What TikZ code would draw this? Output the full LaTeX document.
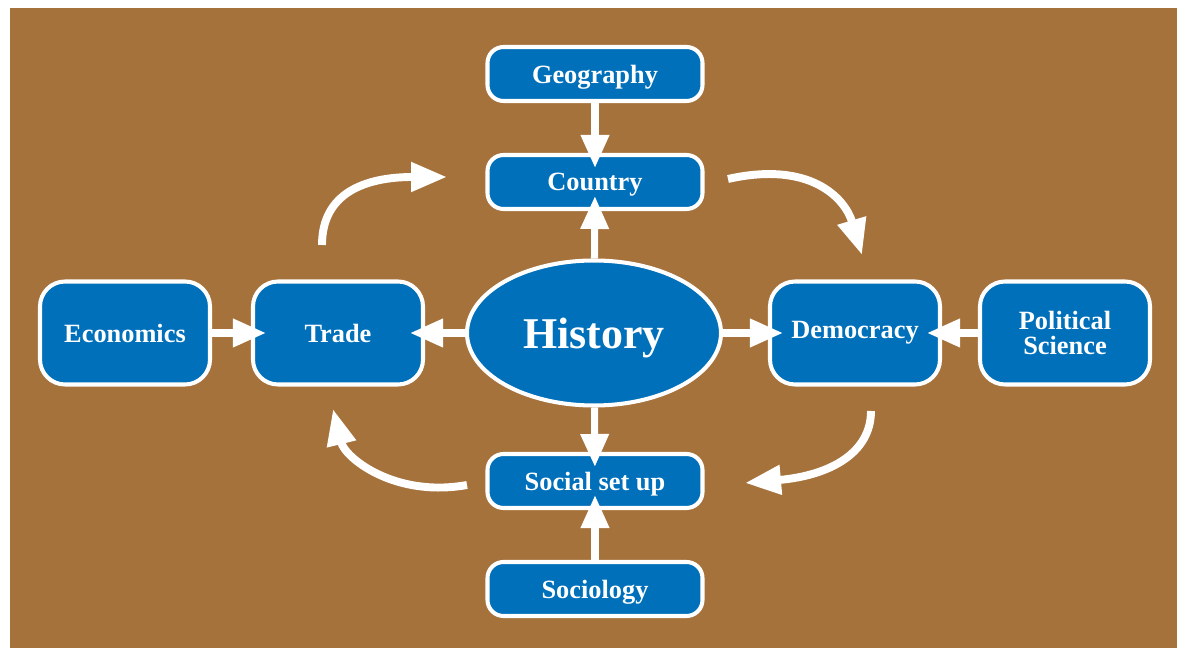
\documentclass[tikz,border=0pt]{standalone}
\usepackage{fontspec}
\setmainfont{Liberation Serif}
\usetikzlibrary{arrows.meta,shapes.geometric}
\definecolor{bgbrown}{HTML}{A6723B}
\definecolor{boxblue}{HTML}{0070BA}
\begin{document}
\begin{tikzpicture}[
   box/.style={draw=white, line width=2.3pt, fill=boxblue, text=white,
     font=\bfseries\fontsize{15}{14.5}\selectfont, align=center, inner sep=0pt},
   wide/.style={box, rounded corners=0.32cm, minimum width=4.3cm, minimum height=1.08cm, text depth=0pt},
   tall/.style={box, rounded corners=0.5cm, minimum width=3.4cm, minimum height=2.06cm},
   flow/.style={white, line width=4pt, -{Triangle[length=0.66cm,width=0.54cm]}, shorten >=-0.3cm},
   turn/.style={white, line width=4.5pt, -{Triangle[length=0.72cm,width=0.56cm]}}
  ]
   \useasboundingbox (0,0) rectangle (23.54,12.96);
   \fill[bgbrown] (0.2,0) rectangle (23.54,12.8);
   % middle column
   \node[wide] (geo)     at (11.9,11.48) {Geography};
   \node[wide] (country) at (11.9,9.32)  {Country};
   \node[wide] (social)  at (11.9,3.34)  {Social set up};
   \node[wide] (socio)   at (11.9,1.18)  {Sociology};
   \node[box, ellipse, minimum width=5.08cm, minimum height=2.9cm, text depth=0pt,
         font=\bfseries\fontsize{25}{30}\selectfont] (history) at (11.88,6.3) {History};
   % middle row
   \node[tall] (econ)   at (2.5,6.3)  {Economics};
   \node[tall] (trade)  at (6.76,6.3) {Trade};
   \node[tall] (demo)   at (17.1,6.3) {Democracy};
   \node[tall] (polsci) at (21.3,6.3) {Political\\Science};
   \foreach \a/\b in {geo/country, history/country, history/social, socio/social,
                      econ/trade, history/trade, history/demo, polsci/demo}
     \draw[flow] (\a) -- (\b);
   % round arrows
   \coordinate (tl0) at (6.44,8.06);  \coordinate (tl1) at (8.94,9.42);
   \coordinate (tr0) at (14.56,9.38); \coordinate (tr1) at (17.24,7.86);
   \coordinate (br0) at (17.42,4.74); \coordinate (br1) at (14.9,3.3);
   \coordinate (bl0) at (9.34,3.26);  \coordinate (bl1) at (6.66,4.78);
   \draw[turn] (tl0) .. controls (6.44,9.1) and (7.3,9.42) .. (tl1);
   \draw[turn] (tr0) .. controls (16.2,9.75) and (16.9,9.0) .. (tr1);
   \draw[turn] (br0) .. controls (17.42,3.9) and (16.6,3.45) .. (br1);
   \draw[turn] (bl0) .. controls (7.9,3.0) and (6.9,3.8) .. (bl1);
\end{tikzpicture}
\end{document}
